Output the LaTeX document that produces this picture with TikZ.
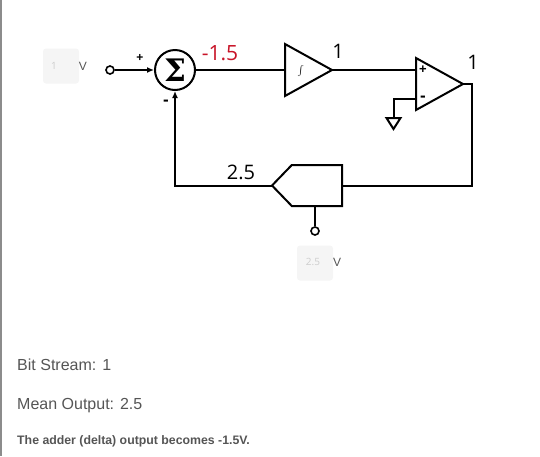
\documentclass[tikz,border=0pt]{standalone}
\usepackage{fontspec}
\setmainfont{Liberation Sans}
\newfontfamily\wirefont{Open Sans}
\newfontfamily\sigmafont{DejaVu Serif}
\usetikzlibrary{arrows.meta,positioning,calc,shapes.geometric,shapes.symbols}
\definecolor{railgray}{RGB}{140,140,140}
\definecolor{boxgray}{RGB}{245,245,245}
\definecolor{valgray}{RGB}{205,205,205}
\definecolor{textgray}{RGB}{85,85,85}
\definecolor{deltared}{RGB}{200,20,40}
\tikzset{
  arrow/.style={-{Latex[length=7pt,width=6pt]}, line width=1.5pt, draw=black},
  wire/.style={line width=2pt, draw=black},
  terminal/.style={circle, draw=black, line width=1.6pt, fill=white, minimum size=8pt, inner sep=0pt},
  amp/.style={isosceles triangle, isosceles triangle stretches, shape border rotate=0, draw=black, line width=2pt, minimum width=52pt, minimum height=47pt, inner sep=0pt, outer sep=0pt, anchor=apex},
  inbox/.style={fill=boxgray, rounded corners=3pt, minimum width=36pt, minimum height=35pt, inner sep=0pt},
  boxval/.style={font=\wirefont\fontsize{10}{12}\selectfont, text=valgray},
  unit/.style={font=\fontsize{12}{14}\selectfont, text=textgray},
  wirelabel/.style={font=\wirefont\fontsize{#1}{#1}\selectfont, text=black},
  signlabel/.style={font=\bfseries\fontsize{#1}{#1}\selectfont},
  readout/.style={anchor=west, font=\fontsize{16}{19}\selectfont, text=textgray}
}
\begin{document}
\begin{tikzpicture}[x=1pt,y=-1pt]
  \useasboundingbox (0,0) rectangle (540,456);
  \fill[railgray] (0,0) rectangle (1.5,456);

  % Input and adder.
  \node[inbox] (inbox) at (61,66) {};
  \node[boxval] (inval) at (54,66) {1};
  \node[unit] (inunit) at (83,66) {V};
  \node[terminal] (interm) at (110,70) {};
  \node[circle, draw=black, line width=2pt, minimum size=40pt, inner sep=0pt] (adder) at (175,70) {\sigmafont\bfseries\fontsize{31}{31}\selectfont Σ};
  \node[signlabel=12] (plus) at (140,58) {+};
  \node[signlabel=17] (minus) at (166,103) {-};
  \node[wirelabel=21, text=deltared] (delta) at (220,53) {-1.5};

  % Integrator and comparator.
  \node[amp] (integ) at (332,70) {};
  \node (integsym) at (300.7,71) {\fontsize{19}{19}\selectfont$\int$};
  \node[wirelabel=20] (integval) at (338,51) {1};
  \node[amp] (comp) at (463,84) {};
  \coordinate (compplus) at (416,70);
  \coordinate (compminus) at (416,99);
  \node[signlabel=13] (cplus) at (423,70) {+};
  \node[signlabel=17] (cminus) at (423,98.5) {-};
  \node[wirelabel=20] (compval) at (473,62) {1};
  \node[isosceles triangle, isosceles triangle stretches, shape border rotate=-90, draw=black, line width=2pt, minimum width=14pt, minimum height=11pt, inner sep=0pt, outer sep=0pt, anchor=apex] (ground) at (393.5,129) {};

  % DAC in the feedback path.
  \node[signal, signal to=west, signal pointer angle=92, draw=black, line width=2pt, minimum width=70pt, minimum height=41pt, inner sep=0pt, outer sep=0pt, anchor=east] (dac) at (342,185.5) {};
  \node[wirelabel=20] (dacval) at (241,172) {2.5};
  \node[terminal] (refterm) at (315,231) {};
  \node[inbox] (refbox) at (315,263) {};
  \node[boxval] (refval) at (313,262) {2.5};
  \node[unit] (refunit) at (337,262) {V};

  \draw[arrow] (interm) -- (adder);
  \draw[wire] (adder) -- (integ.west |- adder);
  \draw[wire] (integ.apex) -- (compplus);
  \draw[wire] (compminus) -| (ground.north);
  \draw[wire] (comp.apex) -- ++(9,0) |- (dac.east);
  \draw[wire] (dac.south -| refterm) -- (refterm);
  \draw[arrow, line width=2pt] (dac.west) -| (adder.south);

  % Read-outs below the circuit.
  \node[readout] (bits) at (13.7,365) {Bit Stream: 1};
  \node[readout] (mean) at (13.7,406) {Mean Output: 2.5};
  \node[readout, font=\bfseries\fontsize{12.3}{15}\selectfont] (status) at (13.7,441.5) {The adder (delta) output becomes -1.5V.};
\end{tikzpicture}
\end{document}
